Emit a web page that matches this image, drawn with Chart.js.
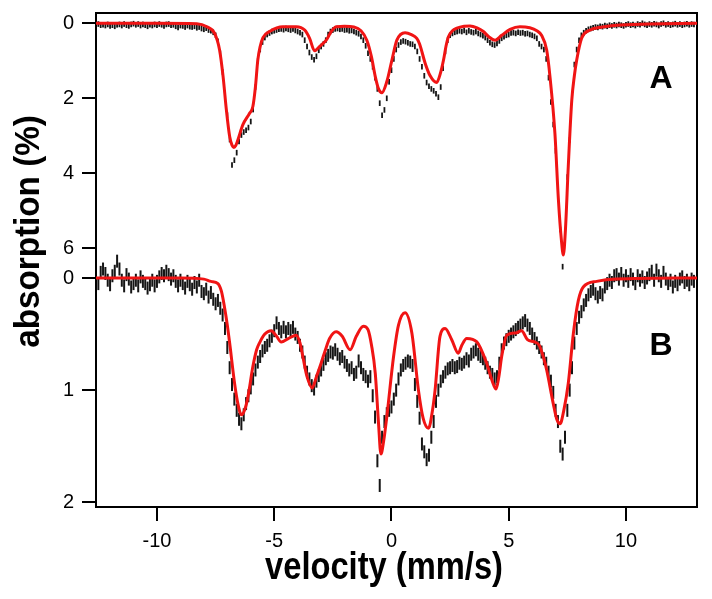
<!DOCTYPE html>
<html>
<head>
<meta charset="utf-8">
<script src="https://cdn.jsdelivr.net/npm/chart.js@4.4.1/dist/chart.umd.min.js"></script>
<style>
html,body{margin:0;padding:0;background:#fff;}
#wrap{width:712px;height:599px;position:relative;}
</style>
</head>
<body>
<div id="wrap"><canvas id="c" width="712" height="599"></canvas></div>
<script>
// ---- velocity channel grid of the measured spectra (mm/s) ----
const channelStart = -12.5;
const channelStep = 0.1;

// ---- panel A: measured absorption (%) per channel ----
const absorptionA = [
 0.02,0.05,0.04,0.06,0.03,0.07,0.05,0.08,0.04,0.03,
 0.06,0.02,0.05,0.07,0.03,0.01,0.04,0.02,0.06,0.03,
 0.05,0.08,0.04,0.06,0.03,0.05,0.02,0.04,0.07,0.03,
 0.02,0.05,0.04,0.08,0.11,0.06,0.07,0.10,0.06,0.09,
 0.10,0.08,0.12,0.10,0.14,0.16,0.13,0.18,0.20,0.24,
 0.32,0.48,0.80,1.30,1.90,2.45,3.10,3.78,3.65,3.45,
 3.15,2.98,2.90,2.85,2.78,2.62,2.30,1.70,1.00,0.70,
 0.50,0.38,0.30,0.26,0.22,0.20,0.18,0.16,0.15,0.17,
 0.14,0.16,0.18,0.15,0.19,0.22,0.25,0.30,0.45,0.62,
 0.78,0.90,0.97,0.88,0.72,0.62,0.55,0.45,0.30,0.22,
 0.18,0.15,0.14,0.16,0.15,0.18,0.17,0.20,0.19,0.22,
 0.25,0.28,0.35,0.45,0.60,0.80,0.95,1.16,1.45,1.75,
 2.13,2.45,2.31,2.00,1.56,1.25,0.95,0.70,0.58,0.50,
 0.47,0.49,0.52,0.55,0.56,0.62,0.75,0.95,1.16,1.40,
 1.58,1.68,1.75,1.80,1.88,1.97,1.70,1.20,0.75,0.45,
 0.32,0.27,0.24,0.22,0.20,0.22,0.19,0.24,0.20,0.23,
 0.25,0.22,0.27,0.30,0.33,0.38,0.45,0.52,0.56,0.58,
 0.54,0.47,0.40,0.36,0.32,0.30,0.26,0.25,0.27,0.24,
 0.26,0.25,0.28,0.27,0.30,0.32,0.35,0.40,0.55,0.62,
 0.70,0.95,1.45,2.10,2.70,3.40,4.36,5.50,6.49,5.60,
 4.10,3.11,1.90,1.10,0.70,0.45,0.32,0.25,0.20,0.16,
 0.14,0.12,0.10,0.11,0.08,0.09,0.06,0.08,0.05,0.07,
 0.04,0.06,0.03,0.05,0.07,0.04,0.02,0.05,0.03,0.06,
 0.02,0.04,0.00,0.03,0.05,0.02,0.04,0.01,0.03,0.06,
 0.02,0.00,0.04,0.02,0.05,0.03,0.01,0.04,0.02,0.05,
 0.03,0.01,0.04,0.02,0.03
];

// ---- panel B: measured absorption (%) per channel ----
const absorptionB = [
 0.05,-0.05,-0.08,-0.04,0.02,0.06,-0.02,-0.06,-0.15,-0.08,
 0.02,0.07,-0.03,0.01,0.08,0.05,0.02,0.07,-0.01,0.03,
 0.05,0.09,0.06,0.02,0.07,0.03,-0.01,-0.04,-0.02,-0.06,
 -0.03,0.01,-0.02,0.03,0.07,0.02,0.05,0.09,0.03,0.06,
 0.10,0.04,0.08,0.02,0.12,0.14,0.10,0.17,0.13,0.19,
 0.23,0.20,0.27,0.33,0.45,0.62,0.80,0.95,1.08,1.18,
 1.26,1.30,1.22,1.12,1.05,0.98,0.90,0.82,0.75,0.70,
 0.65,0.62,0.60,0.56,0.52,0.47,0.40,0.45,0.48,0.44,
 0.48,0.45,0.47,0.44,0.50,0.53,0.60,0.66,0.75,0.84,
 0.90,0.96,0.99,0.92,0.87,0.82,0.77,0.72,0.69,0.66,
 0.67,0.64,0.68,0.72,0.70,0.75,0.78,0.82,0.80,0.86,
 0.84,0.74,0.80,0.86,0.88,0.92,0.88,1.05,1.24,1.63,
 1.85,1.42,1.28,1.21,1.18,1.15,1.08,1.00,0.90,0.82,
 0.78,0.76,0.74,0.75,0.78,0.95,1.10,1.25,1.48,1.55,
 1.62,1.58,1.42,1.28,1.10,1.00,0.92,0.88,0.84,0.81,
 0.80,0.78,0.80,0.79,0.76,0.77,0.75,0.72,0.74,0.68,
 0.66,0.64,0.68,0.70,0.72,0.76,0.80,0.84,0.86,0.90,
 0.88,0.76,0.64,0.58,0.55,0.52,0.50,0.48,0.46,0.44,
 0.42,0.40,0.38,0.42,0.45,0.50,0.54,0.58,0.62,0.66,
 0.72,0.76,0.84,0.92,1.02,1.18,1.28,1.50,1.57,1.42,
 1.18,1.00,0.80,0.58,0.45,0.35,0.30,0.24,0.20,0.15,
 0.12,0.10,0.14,0.17,0.13,0.15,0.08,0.05,0.02,0.04,
 -0.02,-0.03,0.01,-0.04,0.02,-0.02,0.03,-0.03,0.01,0.05,
 -0.02,0.02,-0.01,0.04,0.00,-0.03,-0.06,0.02,-0.07,-0.02,
 0.03,-0.05,0.01,0.05,0.02,0.08,0.03,0.06,0.01,-0.01,
 0.04,0.02,0.06,0.01,0.03
];

// ---- fitted curves (velocity mm/s, absorption %) ----
const fitVelocityA = [-12.6,-10.0,-8.3,-7.87,-7.54,-7.33,-7.18,-7.04,-6.9,-6.8,-6.72,-6.64,-6.55,-6.34,-6.05,-5.91,-5.8,-5.7,-5.6,-5.48,-5.2,-4.63,-4.06,-3.7,-3.49,-3.28,-3.07,-2.78,-2.57,-2.36,-2.0,-1.6,-1.3,-1.05,-0.85,-0.69,-0.55,-0.41,-0.2,0.02,0.23,0.58,0.85,1.08,1.2,1.44,1.65,1.93,2.08,2.22,2.33,2.43,2.6,2.79,3.1,3.35,3.65,3.92,4.15,4.42,4.7,5.06,5.48,5.9,6.2,6.4,6.62,6.76,6.97,7.12,7.25,7.33,7.42,7.54,7.69,7.8,7.9,8.11,8.47,9.0,9.6,11.0,13.03];
const fitA = [0,0,0.01,0.09,0.27,0.71,1.42,2.31,3.02,3.25,3.31,3.26,3.11,2.71,2.4,2.22,1.69,0.98,0.62,0.38,0.22,0.09,0.09,0.18,0.4,0.73,0.62,0.45,0.22,0.09,0.08,0.1,0.2,0.45,0.9,1.42,1.75,1.85,1.56,0.98,0.45,0.25,0.3,0.4,0.55,1.07,1.4,1.58,1.35,0.98,0.6,0.36,0.2,0.13,0.08,0.07,0.12,0.22,0.36,0.45,0.32,0.16,0.09,0.12,0.2,0.32,0.71,1.42,2.93,4.71,5.8,6.18,5.5,3.82,2.05,1.4,0.98,0.4,0.18,0.1,0.05,0.02,0];

const fitVelocityB = [-12.6,-9.0,-8.0,-7.7,-7.4,-7.25,-7.12,-7.0,-6.9,-6.69,-6.55,-6.4,-6.25,-6.12,-5.91,-5.75,-5.63,-5.4,-5.13,-4.9,-4.7,-4.4,-4.06,-3.9,-3.78,-3.6,-3.38,-3.2,-3.0,-2.8,-2.64,-2.36,-2.1,-1.76,-1.5,-1.2,-1.0,-0.85,-0.69,-0.55,-0.45,-0.33,-0.2,0.09,0.3,0.58,0.87,1.15,1.35,1.58,1.75,1.86,2.07,2.29,2.57,2.85,3.0,3.21,3.64,4.06,4.3,4.46,4.58,4.7,4.92,5.3,5.55,5.8,6.1,6.3,6.5,6.62,6.9,7.05,7.19,7.35,7.54,7.76,7.97,8.18,8.75,9.6,13.03];
const fitB = [0,0,0.01,0.03,0.05,0.12,0.26,0.42,0.58,0.94,1.12,1.22,1.17,1.06,0.79,0.64,0.58,0.5,0.47,0.52,0.57,0.54,0.51,0.58,0.7,0.88,0.98,0.88,0.76,0.63,0.54,0.48,0.52,0.64,0.52,0.43,0.46,0.6,0.85,1.3,1.57,1.45,1.24,0.7,0.42,0.31,0.49,1.0,1.25,1.34,1.18,1.0,0.52,0.45,0.55,0.67,0.6,0.54,0.57,0.76,0.92,0.99,0.88,0.7,0.51,0.49,0.47,0.55,0.57,0.6,0.72,0.82,1.12,1.26,1.3,1.18,0.94,0.49,0.2,0.08,0.03,0.01,0];

// ---- tick labels and texts ----
const ticksX = [-10,-5,0,5,10];
const ticksA = [0,2,4,6];
const ticksB = [0,1,2];
const panelLabels = ['A','B'];
const xTitle = 'velocity (mm/s)';
const yTitle = 'absorption (%)';

// ---- build datasets ----
const measured = arr => arr.map((a, i) => ({x: channelStart + i * channelStep, y: a}));
const curve = (vs, ys) => vs.map((v, i) => ({x: v, y: ys[i]}));

const FONT = '"Liberation Sans", Arial, Helvetica, sans-serif';
Chart.defaults.font.family = FONT;
const RED = '#f01414';
const INK = '#000';
const zeroPad = s => { s.paddingTop = 0; s.paddingBottom = 0; s.paddingLeft = 0; s.paddingRight = 0; };
const tickFont = {family: FONT, size: 20};

const textPlugin = {
  id: 'panelText',
  afterDraw(chart) {
    const {ctx, scales} = chart;
    ctx.save();
    ctx.fillStyle = INK;
    ctx.textAlign = 'center';
    ctx.textBaseline = 'alphabetic';
    ctx.font = 'bold 32px ' + FONT;
    ctx.fillText(panelLabels[0], scales.x.getPixelForValue(11.5), scales.yA.getPixelForValue(1.72));
    ctx.fillText(panelLabels[1], scales.x.getPixelForValue(11.5), scales.yB.getPixelForValue(0.687));
    // x title
    ctx.save();
    ctx.translate(384, 579);
    ctx.scale(0.86, 1);
    ctx.font = 'bold 38px ' + FONT;
    ctx.fillText(xTitle, 0, 0);
    ctx.restore();
    // y title
    ctx.save();
    ctx.translate(38.5, 231.5);
    ctx.rotate(-Math.PI / 2);
    ctx.scale(0.95, 1);
    ctx.font = 'bold 35px ' + FONT;
    ctx.fillText(yTitle, 0, 0);
    ctx.restore();
    ctx.restore();
  }
};

const tickGrid = {display: true, drawOnChartArea: false, drawTicks: true, tickLength: 14, tickWidth: 2, tickColor: INK, color: INK, lineWidth: 2};
const border = {display: true, color: INK, width: 2};

new Chart(document.getElementById('c'), {
  type: 'scatter',
  data: {
    datasets: [
      {label: 'fit A', data: curve(fitVelocityA, fitA), xAxisID: 'x', yAxisID: 'yA', showLine: true,
       borderColor: RED, borderWidth: 3, pointRadius: 0, cubicInterpolationMode: 'monotone', clip: false, order: 0},
      {label: 'fit B', data: curve(fitVelocityB, fitB), xAxisID: 'x', yAxisID: 'yB', showLine: true,
       borderColor: RED, borderWidth: 3, pointRadius: 0, cubicInterpolationMode: 'monotone', clip: false, order: 0},
      {label: 'data A', data: measured(absorptionA), xAxisID: 'x', yAxisID: 'yA', showLine: false,
       pointStyle: 'line', pointRotation: 90, pointRadius: 2.8, pointBorderWidth: 1.8,
       pointBorderColor: '#151515', pointBackgroundColor: '#151515', clip: false, order: 1},
      {label: 'data B', data: measured(absorptionB), xAxisID: 'x', yAxisID: 'yB', showLine: false,
       pointStyle: 'line', pointRotation: 90, pointRadius: 6.5, pointBorderWidth: 2,
       pointBorderColor: '#151515', pointBackgroundColor: '#151515', clip: false, order: 1}
    ]
  },
  options: {
    responsive: false,
    animation: false,
    events: [],
    layout: {padding: {top: 13, right: 15, bottom: 0, left: 0}},
    plugins: {legend: {display: false}, tooltip: {enabled: false}},
    scales: {
      x: {
        type: 'linear', position: 'bottom', min: -12.6, max: 13.03,
        afterBuildTicks: s => { s.ticks = ticksX.map(v => ({value: v})); },
        afterFit: s => { s.height = 92; zeroPad(s); },
        grid: tickGrid, border: border,
        ticks: {color: INK, font: tickFont, padding: 8, maxRotation: 0, autoSkip: false}
      },
      xT: {
        type: 'linear', position: 'top', min: -12.6, max: 13.03,
        ticks: {display: false}, grid: {display: false}, border: border,
        afterFit: s => { s.height = 0; zeroPad(s); }
      },
      yA: {
        type: 'linear', position: 'left', stack: 'panels', stackWeight: 250, weight: 2,
        reverse: true, min: -0.2747, max: 6.392,
        afterBuildTicks: s => { s.ticks = ticksA.map(v => ({value: v})); },
        afterFit: s => { s.width = 96; zeroPad(s); },
        grid: tickGrid, border: border,
        ticks: {color: INK, font: tickFont, padding: 8, autoSkip: false}
      },
      yB: {
        type: 'linear', position: 'left', stack: 'panels', stackWeight: 244, weight: 1,
        reverse: true, min: -0.1337, max: 2.042,
        afterBuildTicks: s => { s.ticks = ticksB.map(v => ({value: v})); },
        afterFit: s => { s.width = 96; zeroPad(s); },
        grid: tickGrid, border: border,
        ticks: {color: INK, font: tickFont, padding: 8, autoSkip: false}
      },
      yR: {
        type: 'linear', position: 'right', min: 0, max: 1,
        ticks: {display: false}, grid: {display: false}, border: border,
        afterFit: s => { s.width = 0; zeroPad(s); }
      }
    }
  },
  plugins: [textPlugin]
});
</script>
</body>
</html>
